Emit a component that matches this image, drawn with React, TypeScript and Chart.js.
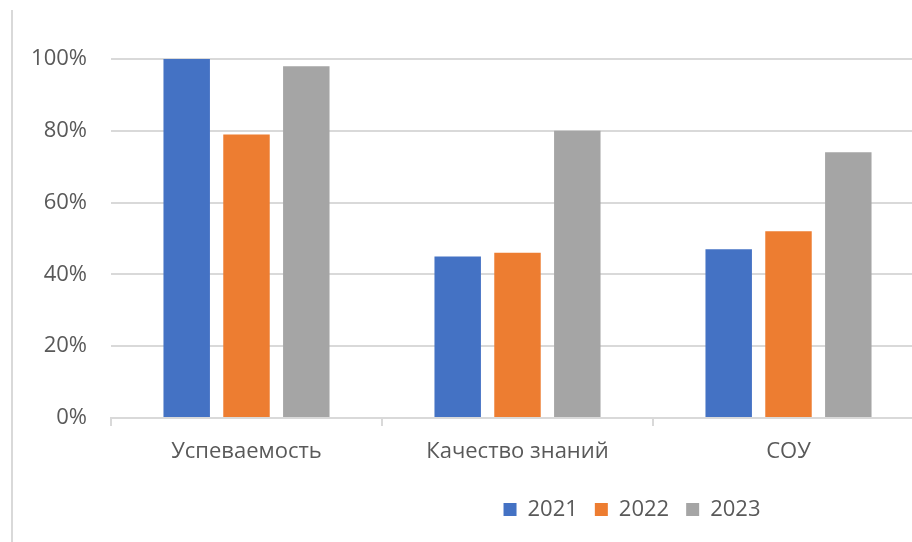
import React, { useEffect, useRef } from 'react';
import { Chart, registerables } from 'chart.js';

Chart.register(...registerables);

const categories = ['Успеваемость', 'Качество знаний', 'СОУ'];
const seriesNames = ['2021', '2022', '2023'];
const values2021 = [100, 45, 47];
const values2022 = [79, 46, 52];
const values2023 = [98, 80, 74];
const seriesColors = ['#4472C4', '#ED7D31', '#A5A5A5'];
const yMin = 0;
const yMax = 100;
const yStep = 20;

const TEXT = '#595959';
const LINE = '#d9d9d9';
const FONT = { family: '"Open Sans", "Noto Sans", sans-serif', size: 22 };

const framePlugin = {
  id: 'frameLine',
  beforeDraw(chart: any) {
    const ctx = chart.ctx;
    ctx.save();
    ctx.fillStyle = LINE;
    ctx.fillRect(11, 10, 2, chart.height - 10);
    ctx.restore();
  },
  afterLayout(chart: any) {
    const lg = chart.legend;
    if (lg) {
      const shift = 632 - (lg.left + lg.right) / 2;
      lg.left += shift;
      lg.right += shift;
    }
  },
};

export default function App() {
  const ref = useRef<HTMLCanvasElement>(null);
  useEffect(() => {
    if (!ref.current) return;
    const allValues = [values2021, values2022, values2023];
    const chart = new Chart(ref.current, {
      type: 'bar',
      data: {
        labels: categories,
        datasets: seriesNames.map((name, i) => ({
          label: name,
          data: allValues[i],
          backgroundColor: seriesColors[i],
          borderWidth: 0,
          categoryPercentage: 0.662,
          barPercentage: 0.777,
        })),
      },
      options: {
        responsive: false,
        animation: false,
        devicePixelRatio: 1,
        layout: { padding: { top: 59, right: 6, bottom: 11.5, left: 0 } },
        plugins: {
          tooltip: { enabled: false },
          legend: {
            position: 'bottom',
            labels: {
              boxWidth: 13,
              boxHeight: 13,
              padding: 17,
              color: TEXT,
              font: FONT,
            },
          },
        },
        scales: {
          x: {
            grid: {
              drawOnChartArea: false,
              drawTicks: true,
              tickLength: 8,
              color: LINE,
              lineWidth: 2,
            },
            border: { display: true, color: LINE, width: 2 },
            ticks: { color: TEXT, font: FONT, padding: 13, maxRotation: 0 },
            afterFit(scale: any) {
              scale.height = 63.5;
            },
          },
          y: {
            min: yMin,
            max: yMax,
            grid: { color: LINE, lineWidth: 2, drawTicks: false },
            border: { display: false },
            ticks: {
              stepSize: yStep,
              color: TEXT,
              font: FONT,
              padding: 24,
              callback: (v: any) => v + '%',
            },
            afterFit(scale: any) {
              scale.width = 111;
            },
          },
        },
      },
      plugins: [framePlugin],
    });
    return () => chart.destroy();
  }, []);

  return (
    <div
      style={{
        position: 'fixed',
        left: 0,
        top: 0,
        width: 912,
        height: 542,
        overflow: 'hidden',
        background: '#fff',
      }}
    >
      <canvas ref={ref} width={930} height={542} style={{ display: 'block' }} />
    </div>
  );
}
